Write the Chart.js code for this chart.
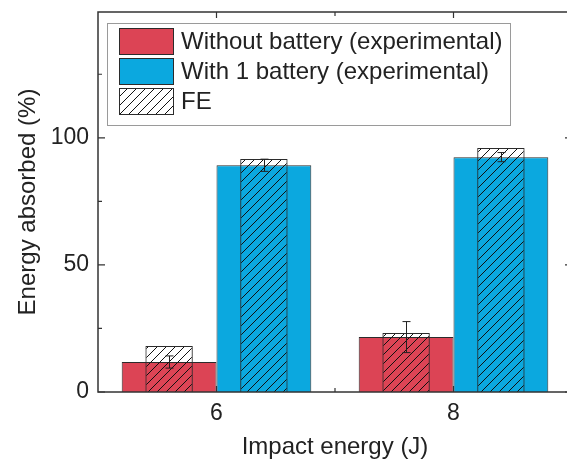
<!DOCTYPE html>
<html>
<head>
<meta charset="utf-8">
<script src="https://cdn.jsdelivr.net/npm/chart.js@4.4.1/dist/chart.umd.min.js"></script>
<style>
  html, body { margin: 0; padding: 0; background: #fff; overflow: hidden; }
  #wrap { width: 567px; height: 466px; overflow: hidden; position: relative; }
  #chart { position: absolute; left: 0; top: 0; }
</style>
</head>
<body>
<div id="wrap"><canvas id="chart" width="580" height="466"></canvas></div>
<script>
// impact energy categories
const energies = ["6", "8"];
// experimental energy absorbed (%)
const withoutBattery = [11.8, 21.6];
const withBattery = [89.2, 92.4];
// error bars (+/-)
const errWithout = [2.4, 6.1];
const errWith = [2.4, 1.8];
// FE simulation
const feWithout = [18.1, 23.2];
const feWith = [91.7, 96.0];

const yTicks = [0, 50, 100];
const yMinor = [25, 75, 125];

const legendLabels = ["Without battery (experimental)", "With 1 battery (experimental)", "FE"];

const RED = "#DC4455";
const BLUE = "#0BA8DF";
const EDGE = "#2b2b2b";
const FONT = "Arial, 'Liberation Sans', sans-serif";

function hatchPattern() {
  const c = document.createElement("canvas");
  c.width = 9; c.height = 9;
  const g = c.getContext("2d");
  g.strokeStyle = "#111";
  g.lineWidth = 1;
  g.beginPath();
  g.moveTo(-1, 10); g.lineTo(10, -1);
  g.moveTo(-5, 5); g.lineTo(5, -5);
  g.moveTo(4, 14); g.lineTo(14, 4);
  g.stroke();
  return g.createPattern(c, "repeat");
}
const hatch = hatchPattern();

// frame, inward ticks, error bars, legend
const decor = {
  id: "decor",
  afterDatasetsDraw(chart) {
    const ctx = chart.ctx;
    const a = chart.chartArea;
    const xs = chart.scales.x, ys = chart.scales.y;
    ctx.save();

    // error bars
    ctx.strokeStyle = "#222";
    ctx.lineWidth = 1;
    [[2, withoutBattery, errWithout], [3, withBattery, errWith]].forEach(([di, vals, errs]) => {
      const meta = chart.getDatasetMeta(di);
      meta.data.forEach((bar, i) => {
        const x = Math.round(bar.x) + 0.5;
        const yt = ys.getPixelForValue(vals[i] + errs[i]);
        const yb = ys.getPixelForValue(vals[i] - errs[i]);
        ctx.beginPath();
        ctx.moveTo(x, yt); ctx.lineTo(x, yb);
        ctx.moveTo(x - 4, yt); ctx.lineTo(x + 4, yt);
        ctx.moveTo(x - 4, yb); ctx.lineTo(x + 4, yb);
        ctx.stroke();
      });
    });

    // frame
    ctx.strokeStyle = "#333";
    ctx.lineWidth = 1.5;
    ctx.strokeRect(a.left, a.top, a.right - a.left, a.bottom - a.top);

    // ticks (pointing inward)
    ctx.lineWidth = 1.2;
    ctx.beginPath();
    yTicks.forEach(v => {
      const y = ys.getPixelForValue(v);
      ctx.moveTo(a.left, y); ctx.lineTo(a.left + 7, y);
      ctx.moveTo(a.right, y); ctx.lineTo(a.right - 7, y);
    });
    yMinor.forEach(v => {
      const y = ys.getPixelForValue(v);
      ctx.moveTo(a.left, y); ctx.lineTo(a.left + 4, y);
      ctx.moveTo(a.right, y); ctx.lineTo(a.right - 4, y);
    });
    energies.forEach((e, i) => {
      const x = xs.getPixelForValue(i);
      ctx.moveTo(x, a.top); ctx.lineTo(x, a.top + 6);
      ctx.moveTo(x, a.bottom); ctx.lineTo(x, a.bottom - 6);
    });
    const xm = (xs.getPixelForValue(0) + xs.getPixelForValue(1)) / 2;
    ctx.moveTo(xm, a.top); ctx.lineTo(xm, a.top + 4);
    ctx.moveTo(xm, a.bottom); ctx.lineTo(xm, a.bottom - 4);
    ctx.stroke();

    // legend box
    const lx = a.left + 9, ly = a.top + 11, lw = 403, lh = 102;
    ctx.fillStyle = "#fff";
    ctx.fillRect(lx, ly, lw, lh);
    ctx.strokeStyle = "#9a9a9a";
    ctx.lineWidth = 1;
    ctx.strokeRect(lx + 0.5, ly + 0.5, lw, lh);
    const fills = [RED, BLUE, hatch];
    ctx.font = "24px " + FONT;
    ctx.textBaseline = "middle";
    legendLabels.forEach((lab, i) => {
      const sy = ly + 5 + i * 30;
      ctx.fillStyle = fills[i] === hatch ? "#fff" : fills[i];
      ctx.fillRect(lx + 12, sy, 54, 26);
      if (fills[i] === hatch) { ctx.fillStyle = hatch; ctx.fillRect(lx + 12, sy, 54, 26); }
      ctx.strokeStyle = EDGE;
      ctx.strokeRect(lx + 12.5, sy + 0.5, 54, 26);
      ctx.fillStyle = "#222";
      ctx.fillText(lab, lx + 74, sy + 14);
    });
    ctx.restore();
  }
};

new Chart(document.getElementById("chart"), {
  type: "bar",
  data: {
    labels: energies,
    datasets: [
      { label: "FE", data: feWithout, stack: "r", backgroundColor: hatch, borderColor: EDGE, borderWidth: 1, barPercentage: 0.5, categoryPercentage: 0.8 },
      { label: "FE", data: feWith, stack: "b", backgroundColor: hatch, borderColor: EDGE, borderWidth: 1, barPercentage: 0.5, categoryPercentage: 0.8 },
      { label: legendLabels[0], data: withoutBattery, stack: "r", backgroundColor: RED, borderColor: EDGE, borderWidth: 1, barPercentage: 1, categoryPercentage: 0.8 },
      { label: legendLabels[1], data: withBattery, stack: "b", backgroundColor: BLUE, borderColor: EDGE, borderWidth: 1, barPercentage: 1, categoryPercentage: 0.8 }
    ]
  },
  options: {
    responsive: false,
    animation: false,
    layout: { padding: { top: 12, right: 8, left: 0, bottom: 0 } },
    plugins: { legend: { display: false }, tooltip: { enabled: false } },
    scales: {
      x: {
        grid: { display: false, drawTicks: false },
        border: { display: false },
        ticks: { color: "#222", font: { family: FONT, size: 23 }, padding: 8 },
        title: { display: true, text: "Impact energy (J)", color: "#222", font: { family: FONT, size: 24 }, padding: { top: 0, bottom: 4 } },
        afterFit: s => { s.height = 74; s.paddingLeft = 0; s.paddingRight = 0; }
      },
      y: {
        min: 0, max: 149.5,
        stacked: false,
        grid: { display: false, drawTicks: false },
        border: { display: false },
        afterBuildTicks: s => { s.ticks = yTicks.map(v => ({ value: v })); },
        ticks: { color: "#222", font: { family: FONT, size: 23 }, padding: 9 },
        title: { display: true, text: "Energy absorbed (%)", color: "#222", font: { family: FONT, size: 24 }, padding: { top: 14, bottom: 0 } },
        afterFit: s => { s.width = 98; s.paddingTop = 0; s.paddingBottom = 0; }
      }
    }
  },
  plugins: [decor]
});
</script>
</body>
</html>
